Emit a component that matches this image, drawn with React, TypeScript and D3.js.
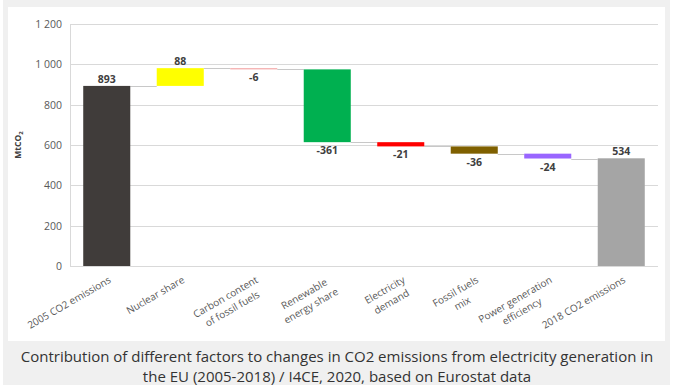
import React, { useEffect, useRef } from "react";
import * as d3 from "d3";

// waterfall: CO2 emissions from electricity generation, EU 2005 -> 2018
const categories = [
  "2005 CO2 emissions",
  "Nuclear share",
  "Carbon content\nof fossil fuels",
  "Renewable\nenergy share",
  "Electricity\ndemand",
  "Fossil fuels\nmix",
  "Power generation\nefficiency",
  "2018 CO2 emissions",
];
const values = [893, 88, -6, -361, -21, -36, -24, 534];
const isTotal = [true, false, false, false, false, false, false, true];
const barColors = ["#403c3a", "#ffff00", "#f4a8a8", "#00b050", "#ff0000", "#7f6000", "#9966ff", "#a5a5a5"];
const yTicks = [0, 200, 400, 600, 800, 1000, 1200];
const yTickLabels = ["0", "200", "400", "600", "800", "1 000", "1 200"];
const captionLines = [
  "Contribution of different factors to changes in CO2 emissions from electricity generation in",
  "the EU (2005-2018) / I4CE, 2020, based on Eurostat data",
];

function App() {
  const ref = useRef<SVGSVGElement>(null);

  useEffect(() => {
    const svg = d3.select(ref.current);
    svg.selectAll("*").remove();

    // frame + panel
    svg.append("rect").attr("x", 3).attr("y", 0).attr("width", 667).attr("height", 385).attr("fill", "#f0f0f0");
    svg.append("rect").attr("x", 8).attr("y", 7).attr("width", 657).attr("height", 334).attr("fill", "#ffffff");

    // running totals for the waterfall
    let run = 0;
    const bars = values.map((v, i) => {
      let start, end;
      if (isTotal[i]) {
        start = 0;
        end = v;
      } else {
        start = run;
        end = run + v;
      }
      run = end;
      return { i, v, start, end };
    });

    const x = d3
      .scaleBand<number>()
      .domain(d3.range(categories.length))
      .range([70, 658])
      .paddingInner(0.36)
      .paddingOuter(0.18);
    const y = d3.scaleLinear().domain([0, 1200]).range([266, 24]);

    // gridlines
    svg
      .selectAll("line.grid")
      .data(yTicks)
      .join("line")
      .attr("x1", 70)
      .attr("x2", 658)
      .attr("y1", (d) => Math.round(y(d)) + 0.5)
      .attr("y2", (d) => Math.round(y(d)) + 0.5)
      .attr("stroke", "#d9d9d9")
      .attr("stroke-width", 1);
    svg
      .append("line")
      .attr("x1", 70.5)
      .attr("x2", 70.5)
      .attr("y1", y(1200))
      .attr("y2", y(0))
      .attr("stroke", "#d9d9d9");

    // y tick labels
    svg
      .selectAll("text.ytick")
      .data(yTicks)
      .join("text")
      .attr("x", 62)
      .attr("y", (d) => y(d) + 4)
      .attr("text-anchor", "end")
      .style("font-family", "'Open Sans', sans-serif")
      .style("font-size", "10.5px")
      .attr("fill", "#595959")
      .text((d, i) => yTickLabels[i]);

    // y axis title
    const yt = svg
      .append("text")
      .attr("transform", `translate(21, ${y(600)}) rotate(-90)`)
      .attr("text-anchor", "middle")
      .style("font-family", "'Open Sans', sans-serif")
      .style("font-size", "8.5px")
      .style("font-weight", "bold")
      .attr("fill", "#404040");
    yt.append("tspan").text("MtCO");
    yt.append("tspan").attr("dy", 2).style("font-size", "6px").text("2");

    // connectors
    svg
      .selectAll("line.conn")
      .data(bars.slice(0, -1))
      .join("line")
      .attr("x1", (d) => x(d.i)! + x.bandwidth())
      .attr("x2", (d) => x(d.i + 1)!)
      .attr("y1", (d) => Math.round(y(d.end)) + 0.5)
      .attr("y2", (d) => Math.round(y(d.end)) + 0.5)
      .attr("stroke", "#c8c8c8")
      .attr("stroke-width", 1);

    // bars
    svg
      .selectAll("rect.bar")
      .data(bars)
      .join("rect")
      .attr("x", (d) => x(d.i)!)
      .attr("width", x.bandwidth())
      .attr("y", (d) => y(Math.max(d.start, d.end)))
      .attr("height", (d) => Math.max(1, Math.abs(y(d.start) - y(d.end))))
      .attr("fill", (d, i) => barColors[i]);

    // value labels: above rising bars, below falling ones
    svg
      .selectAll("text.val")
      .data(bars)
      .join("text")
      .attr("x", (d) => x(d.i)! + x.bandwidth() / 2)
      .attr("y", (d) => (d.v >= 0 ? y(Math.max(d.start, d.end)) - 3 : y(d.end) + 12))
      .attr("text-anchor", "middle")
      .style("font-family", "'Open Sans', sans-serif")
      .style("font-size", "10.5px")
      .style("font-weight", "bold")
      .attr("fill", "#404040")
      .text((d) => d.v);

    // rotated category labels, right edge at the tick
    categories.forEach((c, i) => {
      const lines = c.split("\n");
      const g = svg
        .append("g")
        .attr("transform", `translate(${x(i)! + x.bandwidth() / 2 + 1}, 275) rotate(-30)`);
      const texts = lines.map((l, j) =>
        g
          .append("text")
          .attr("y", 8 + j * 13.5)
          .attr("text-anchor", "middle")
          .style("font-family", "'Open Sans', sans-serif")
          .style("font-size", "10px")
          .attr("fill", "#595959")
          .text(l)
      );
      const maxW = d3.max(texts, (t) => (t.node() as SVGTextElement).getComputedTextLength()) || 0;
      texts.forEach((t) => t.attr("x", -maxW / 2));
    });

    // caption
    svg
      .selectAll("text.cap")
      .data(captionLines)
      .join("text")
      .attr("x", 337)
      .attr("y", (d, i) => 362 + i * 20)
      .attr("text-anchor", "middle")
      .style("font-family", "'Open Sans', sans-serif")
      .style("font-size", "15px")
      .attr("fill", "#333333")
      .text((d) => d);
  }, []);

  return (
    <svg
      ref={ref}
      width={674}
      height={392}
      style={{ position: "absolute", left: 0, top: 0, background: "#ffffff" }}
    />
  );
}

export default App;
